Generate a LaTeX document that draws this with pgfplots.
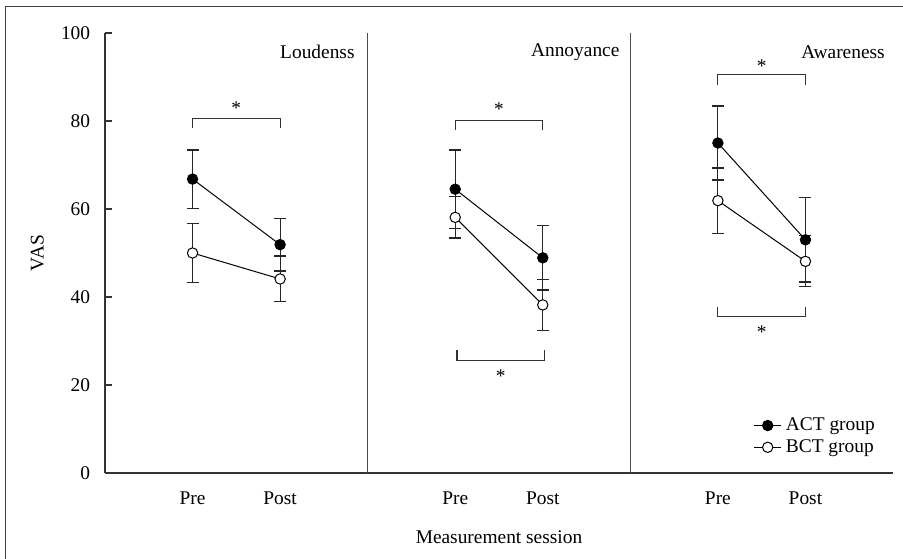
\documentclass[border=0pt]{standalone}
\usepackage{fontspec}
\setmainfont{Liberation Serif}
\usepackage{pgfplots}
\pgfplotsset{compat=1.18}

% shared series styles (no .cd so extra keys can follow)
\pgfplotsset{
  grp/.style={black, line width=0.5pt, mark=*, mark size=2.6pt,
    error bars/y dir=both, error bars/y explicit,
    error bars/error bar style={line width=0.6pt, black!85, solid},
    error bars/error mark options={line width=0.6pt, black!85, mark size=3pt, rotate=90}},
  act/.style={grp, mark options={fill=black, draw=black}},
  bct/.style={grp, mark options={fill=white, draw=black}},
  brk/.style={black!80, line width=0.55pt, forget plot, mark=none},
}

\begin{document}
\fontsize{9.7}{11.6}\selectfont
\begin{tikzpicture}
\useasboundingbox (-52.5pt,-42.5pt) rectangle (399pt,236.5pt);
\draw[line width=0.5pt, black!75] (-49.5pt,-60pt) -- (-49.5pt,233pt) -- (420pt,233pt);
\begin{axis}[
    at={(0,0)}, anchor=south west,
    scale only axis, width=394pt, height=220pt,
    xmin=0, xmax=9, ymin=0, ymax=100,
    axis x line=bottom, axis y line=left,
    axis line style={-, line width=0.6pt, black!80},
    xtick={1,2,4,5,7,8},
    xticklabels={Pre,Post,Pre,Post,Pre,Post},
    major x tick style={draw=none},
    xticklabel style={anchor=center, yshift=-12.5pt},
    ytick={0,20,40,60,80,100},
    tick align=inside, major tick length=3.5pt,
    ytick style={line width=0.6pt, black!80},
    yticklabel style={xshift=-4pt},
    /pgf/number format/assume math mode=true,
    xlabel={Measurement session},
    xlabel style={at={(axis description cs:0.5,-0.145)}, anchor=center},
    ylabel={VAS},
    ylabel style={at={(axis description cs:-0.086,0.5)}, anchor=center, rotate=0},
    clip=false,
    legend cell align=left,
    legend style={at={(0.985,0.026)}, anchor=south east, draw=none, fill=none,
      row sep=-1pt, inner sep=1pt},
    legend image code/.code={
      \draw[mark repeat=2, mark phase=2] plot coordinates {(0cm,0cm) (0.24cm,0cm) (0.48cm,0cm)};},
  ]

  % dividers between the three panels
  \addplot[brk, black!70] coordinates {(3,0) (3,100)};
  \addplot[brk, black!70] coordinates {(6,0) (6,100)};

  % Loudness
  \addplot[act] coordinates {(1,66.8) +- (0,6.6) (2,51.9) +- (0,6.0)};
  \addlegendentry{ACT group}
  \addplot[bct] coordinates {(1,50.0) +- (0,6.7) (2,44.1) +- (0,5.2)};
  \addlegendentry{BCT group}

  % Annoyance
  \addplot[forget plot, act] coordinates {(4,64.5) +- (0,8.9) (5,48.9) +- (0,7.3)};
  \addplot[forget plot, bct] coordinates {(4,58.1) +- (0,4.7) (5,38.2) +- (0,5.8)};

  % Awareness
  \addplot[forget plot, act] coordinates {(7,75.0) +- (0,8.4) (8,53.0) +- (0,9.6)};
  \addplot[forget plot, bct] coordinates {(7,61.9) +- (0,7.4) (8,48.1) +- (0,5.8)};

  % significance brackets
  \addplot[brk] coordinates {(1,78.3) (1,80.6) (2,80.6) (2,78.3)};
  \addplot[brk] coordinates {(4,78.0) (4,80.2) (5,80.2) (5,78.0)};
  \addplot[brk] coordinates {(4.02,28.0) (4.02,25.5) (5.02,25.5) (5.02,28.0)};
  \addplot[brk] coordinates {(7,88.2) (7,90.5) (8,90.5) (8,88.2)};
  \addplot[brk] coordinates {(7,37.7) (7,35.5) (8,35.5) (8,37.7)};

  \node at (axis cs:1.5,83.0) {*};
  \node at (axis cs:4.5,82.6) {*};
  \node at (axis cs:4.52,22.0) {*};
  \node at (axis cs:7.5,92.5) {*};
  \node at (axis cs:7.5,31.9) {*};

  % panel titles
  \node[anchor=east, inner sep=0pt] at (axis cs:2.855,95.7) {Loudenss};
  \node[anchor=east, inner sep=0pt] at (axis cs:5.88,95.7) {Annoyance};
  \node[anchor=east, inner sep=0pt] at (axis cs:8.91,95.7) {Awareness};
\end{axis}
\end{tikzpicture}
\end{document}
